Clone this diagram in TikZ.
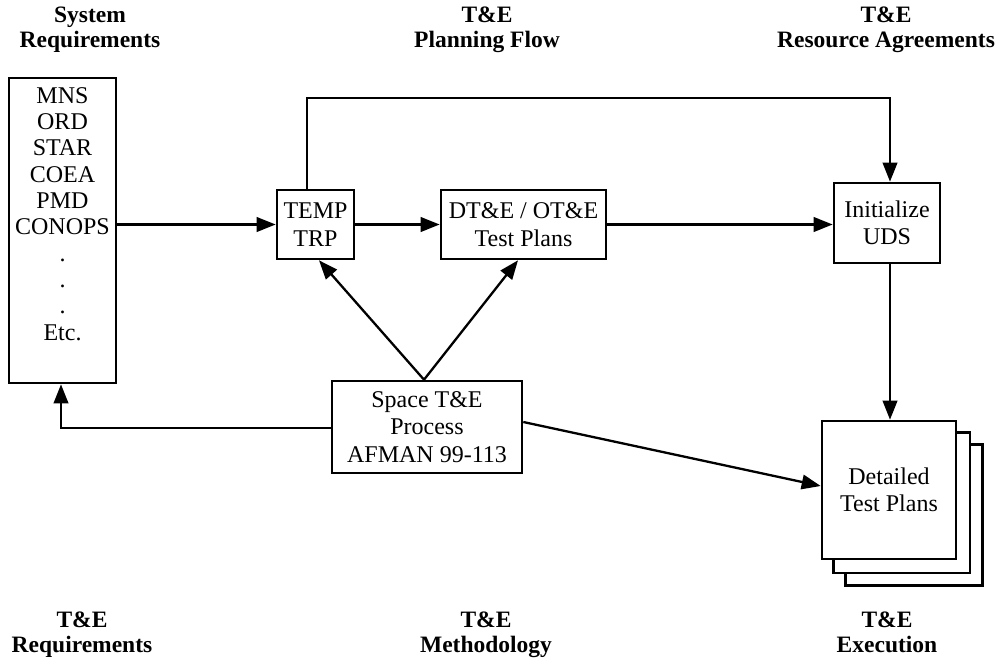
\documentclass[tikz,border=0pt]{standalone}
\usepackage{fontspec}
\setmainfont{Liberation Serif}
\usetikzlibrary{arrows.meta,backgrounds}
\begin{document}
\begin{tikzpicture}[x=1pt,y=-1pt,
  box/.style={draw,line width=2.6pt,fill=white,inner sep=0pt,align=center,
    font=\fontsize{24}{27.5}\selectfont},
  backpage/.style={draw,line width=2.6pt,fill=white},
  conn/.style={line width=2.3pt,-{Triangle[length=19pt,width=14.5pt]}},
  head/.style={font=\fontsize{23.5}{25}\selectfont\bfseries,align=center,anchor=base,inner sep=0pt}]
\useasboundingbox (0,0) rectangle (1000,661);

% headings (anchor base = baseline of the last line)
\node[head] (h1) at (90,48) {System\\Requirements};
\node[head] (h2) at (487,48) {T\&E\\Planning Flow};
\node[head] (h3) at (886,48) {T\&E\\Resource Agreements};
\node[head] (h4) at (82,652) {T\&E\\Requirements};
\node[head] (h5) at (486,652) {T\&E\\Methodology};
\node[head] (h6) at (887,652) {T\&E\\Execution};

% boxes
\node[box,minimum width=107pt,minimum height=305pt] (req) at (62.5,230.5) {};
\node[anchor=base,align=center,inner sep=0pt,font=\fontsize{24}{26.3}\selectfont] (reqtext) at (62.5,340)
  {MNS\\ORD\\STAR\\COEA\\PMD\\CONOPS\\.\\.\\.\\Etc.};
\node[box,minimum width=77pt,minimum height=69pt] (temp) at (315.5,224.5) {TEMP\\TRP};
\node[box,minimum width=165pt,minimum height=69pt] (dt) at (523.5,224.5) {DT\&E / OT\&E\\Test Plans};
\node[box,minimum width=106pt,minimum height=80pt] (init) at (887,223) {Initialize\\UDS};
\node[box,minimum width=190pt,minimum height=92pt] (space) at (427,427) {Space T\&E\\Process\\AFMAN 99-113};
\node[box,minimum width=134pt,minimum height=138pt] (det) at (889,490) {Detailed\\Test Plans};
\begin{scope}[on background layer]
  \draw[backpage] ([shift={(25,25)}]det.north west) rectangle ([shift={(25,25)}]det.south east);
  \draw[backpage] ([shift={(12.5,12.5)}]det.north west) rectangle ([shift={(12.5,12.5)}]det.south east);
\end{scope}

% connectors
\coordinate (topline) at (600,98);
\draw[conn] (req.east |- temp.west) -- (temp.west);
\draw[conn] (temp.east) -- (dt.west);
\draw[conn] (dt.east) -- (dt.east -| init.west);
\draw[conn] ([xshift=-8.5pt]temp.north) |- (topline) -| ([xshift=3pt]init.north);
\draw[conn] ([xshift=3pt]init.south) -- ([xshift=3pt]init.south |- det.north);
\draw[conn] ([xshift=-3pt]space.north) -- ([xshift=3.5pt]temp.south);
\draw[conn] ([xshift=-3pt]space.north) -- ([xshift=-5.5pt]dt.south);
\draw[conn] ([yshift=5pt]space.east) -- ([yshift=4pt]det.west);
\draw[conn] ([yshift=-1pt]space.west) -| ([xshift=-1.5pt]req.south);
\end{tikzpicture}
\end{document}
